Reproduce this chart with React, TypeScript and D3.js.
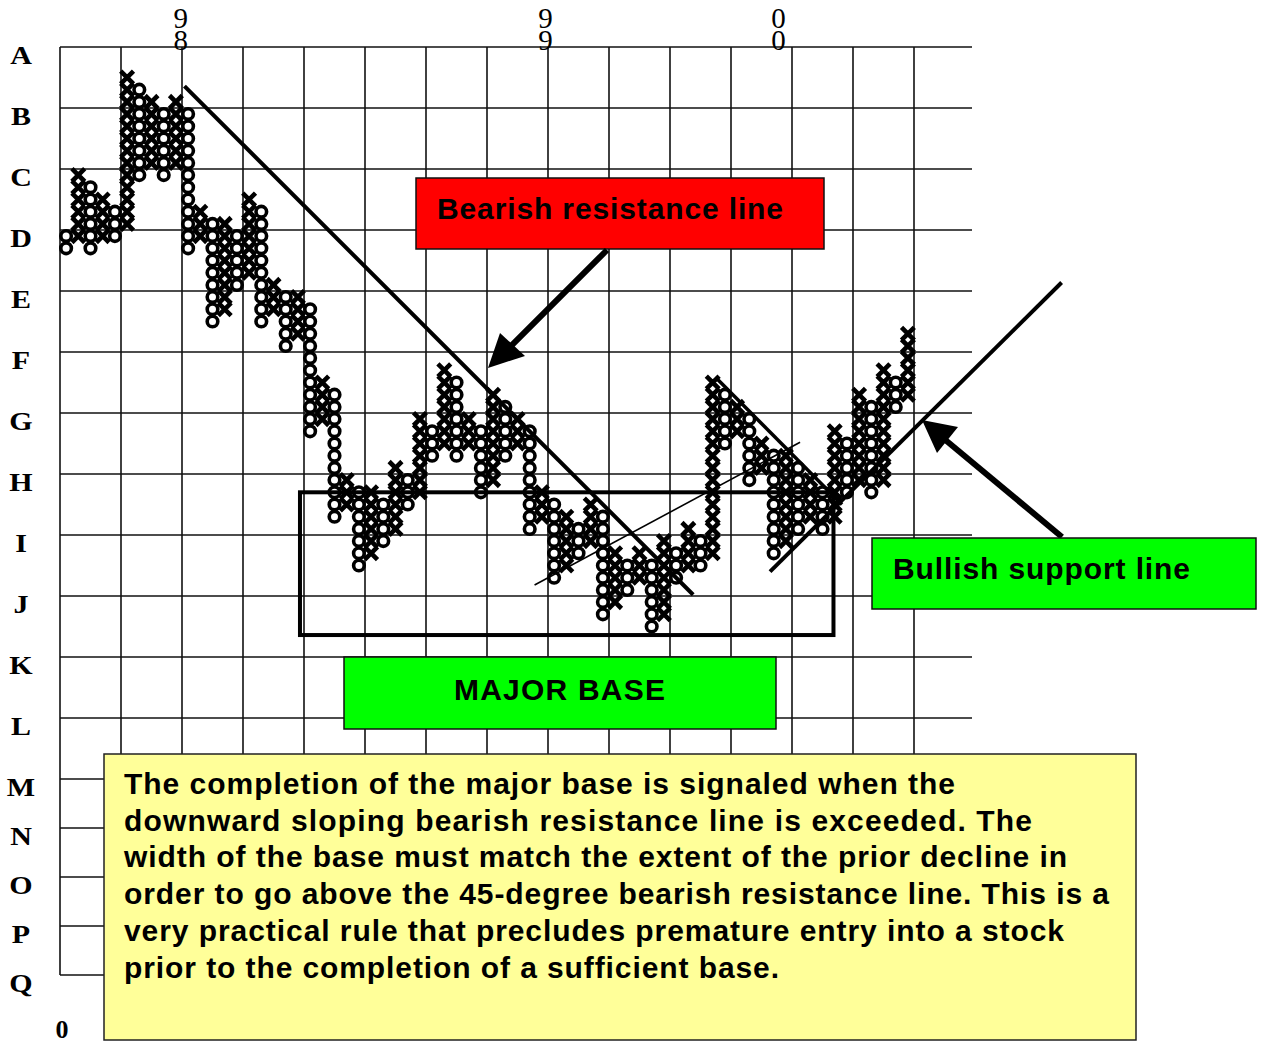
import React from "react";
import * as d3 from "d3";

// ---------- data ----------
const rowLabels = ["A", "B", "C", "D", "E", "F", "G", "H", "I", "J", "K", "L", "M", "N", "O", "P", "Q"];
const yearLabels = ["98", "99", "00"];
const yearColumns = [9.9, 39.8, 58.9];

const columnKinds = "OXOXOXOXOXOXOXOXOXOXOXOXOXOXOXOXOXOXOXOXOXOXOXOXOXOXOXOXOXOXOXOXOXOXOX".split("");
const columnHigh = [
  85, 90, 89, 88, 87, 98, 97, 96, 95, 96,
  95, 87, 86, 86, 85, 88, 87, 81, 80, 80,
  79, 73, 72, 65, 64, 64, 63, 66, 65, 70,
  69, 74, 73, 70, 69, 72, 71, 70, 69, 64,
  63, 62, 61, 63, 62, 59, 58, 59, 58, 60,
  59, 61, 60, 73, 72, 71, 70, 68, 67, 67,
  66, 65, 64, 69, 68, 72, 71, 74, 73, 77,
];
const columnLow = [
  84, 85, 84, 85, 85, 86, 90, 91, 90, 91,
  84, 85, 78, 79, 81, 82, 78, 79, 76, 77,
  69, 70, 62, 63, 58, 59, 60, 61, 63, 64,
  67, 68, 67, 68, 64, 65, 67, 68, 61, 62,
  57, 58, 59, 60, 54, 55, 56, 57, 53, 54,
  57, 58, 58, 59, 68, 69, 65, 66, 59, 60,
  61, 62, 61, 62, 64, 65, 64, 65, 71, 72,
];

// trend lines in [box column, price] units
const bearishLine = [[10.2, 96.8], [51.9, 55.1]];
const innerBearishLine = [[53.85, 72.8], [64.1, 62.5]];
const bullishLine = [[58.2, 57.0], [82.1, 80.7]];
const thinLine = [[38.9, 55.9], [60.66, 67.6]];
const baseRect = { x0: 19.67, x1: 63.4, top: 63.5, bottom: 51.8 };

const bodyLines = [
  "The completion of the major base is signaled when the",
  "downward sloping bearish resistance line is exceeded.  The",
  "width of the base must match the extent of the prior decline in",
  "order to go above the 45-degree bearish resistance line. This is a",
  "very practical rule that precludes premature entry into a stock",
  "prior to the completion of a sufficient base.",
];

// ---------- layout ----------
const W = 1262;
const H = 1043;
const bodyLineWidths = [831, 908, 943, 985, 940, 655];
const sans = "'Liberation Sans', Arial, Helvetica, sans-serif";
const serif = "'Liberation Serif', 'Times New Roman', serif";

export default function App() {
  const x = d3.scaleLinear().domain([0, 70]).range([60, 914]);
  const y = d3.scaleLinear().domain([100, 40]).range([47, 779]);
  const rowY = d3.scaleLinear().domain([0, 12, 16]).range([47, 779, 975]);
  const gridRight = 972;

  const xs: JSX.Element[] = [];
  const os: JSX.Element[] = [];
  columnKinds.forEach((k, i) => {
    const cx = x(i + 0.5);
    for (let p = columnLow[i]; p <= columnHigh[i]; p++) {
      const cy = y(p - 0.5);
      if (k === "X") {
        const h = 6.4;
        xs.push(
          <path
            key={`x${i}-${p}`}
            d={`M${cx - h},${cy - h}L${cx + h},${cy + h}M${cx + h},${cy - h}L${cx - h},${cy + h}`}
            stroke="#000"
            strokeWidth={4.6}
          />
        );
      } else {
        os.push(
          <circle key={`o${i}-${p}`} cx={cx} cy={cy} r={5.3} fill="#fff" stroke="#000" strokeWidth={3.6} />
        );
      }
    }
  });

  const seg = (l: number[][], w: number, key: string) => (
    <line
      key={key}
      x1={x(l[0][0])}
      y1={y(l[0][1])}
      x2={x(l[1][0])}
      y2={y(l[1][1])}
      stroke="#000"
      strokeWidth={w}
    />
  );

  return (
    <svg
      width={W}
      height={H}
      style={{ position: "absolute", left: 0, top: 0, background: "#fff" }}
      xmlns="http://www.w3.org/2000/svg"
    >
      <rect x={0} y={0} width={W} height={H} fill="#fff" />
      {/* grid */}
      {rowLabels.map((r, i) => (
        <line key={`h${r}`} x1={x(0)} x2={gridRight} y1={rowY(i)} y2={rowY(i)} stroke="#111" strokeWidth={1.6} />
      ))}
      {d3.range(0, 71, 5).map((b) => (
        <line key={`v${b}`} x1={x(b)} x2={x(b)} y1={rowY(0)} y2={rowY(16)} stroke="#111" strokeWidth={1.6} />
      ))}
      {/* row labels */}
      {rowLabels.map((r, i) => (
        <text
          key={`l${r}`}
          x={0}
          y={0}
          transform={`translate(21,${rowY(i) + 17}) scale(1.2,1)`}
          textAnchor="middle"
          fontFamily={serif}
          fontWeight="bold"
          fontSize={25}
          fill="#000"
        >
          {r}
        </text>
      ))}
      <text x={62} y={1038} textAnchor="middle" fontFamily={serif} fontWeight="bold" fontSize={26}>
        0
      </text>
      {/* year labels, stacked vertically */}
      {yearLabels.map((lab, j) => (
        <text
          key={`y${j}`}
          x={x(yearColumns[j])}
          y={2}
          fontFamily={serif}
          fontSize={29}
          fill="#000"
          letterSpacing={-10}
          style={{ writingMode: "vertical-rl", textOrientation: "upright" } as React.CSSProperties}
        >
          {lab}
        </text>
      ))}
      {/* point & figure */}
      {xs}
      {os}
      {/* trend lines */}
      {seg(bearishLine, 4, "bear")}
      {seg(innerBearishLine, 3.5, "ibear")}
      {seg(bullishLine, 4, "bull")}
      {seg(thinLine, 1.6, "thin")}
      <rect
        x={x(baseRect.x0)}
        y={y(baseRect.top)}
        width={x(baseRect.x1) - x(baseRect.x0)}
        height={y(baseRect.bottom) - y(baseRect.top)}
        fill="none"
        stroke="#000"
        strokeWidth={4}
      />
      {/* bearish label + arrow */}
      <rect x={416} y={178} width={408} height={71} fill="#ff0000" stroke="#111" strokeWidth={1.5} />
      <text x={437} y={219} fontFamily={sans} fontWeight="bold" fontSize={30} textLength={346} lengthAdjust="spacing">
        Bearish resistance line
      </text>
      <line x1={607} y1={250} x2={503} y2={354} stroke="#000" strokeWidth={6} />
      <polygon points="488,368 500,333 525,356" fill="#000" />
      {/* bullish label + arrow */}
      <line x1={1062} y1={537} x2={943} y2={438} stroke="#000" strokeWidth={6} />
      <polygon points="922,420 958,427 937,453" fill="#000" />
      <rect x={872} y={538} width={384} height={71} fill="#00ff00" stroke="#111" strokeWidth={1.5} />
      <text x={893} y={579} fontFamily={sans} fontWeight="bold" fontSize={30} textLength={297} lengthAdjust="spacing">
        Bullish support line
      </text>
      {/* major base label */}
      <rect x={344} y={657} width={432} height={72} fill="#00ff00" stroke="#111" strokeWidth={1.5} />
      <text x={454} y={700} fontFamily={sans} fontWeight="bold" fontSize={30} textLength={211} lengthAdjust="spacing">
        MAJOR BASE
      </text>
      {/* explanation box */}
      <rect x={104} y={754} width={1032} height={286} fill="#ffff99" stroke="#222" strokeWidth={1.5} />
      {bodyLines.map((t, i) => (
        <text
          key={`b${i}`}
          x={124}
          y={794 + i * 36.7}
          fontFamily={sans}
          fontWeight="bold"
          fontSize={30}
          textLength={bodyLineWidths[i]}
          lengthAdjust="spacing"
          fill="#000"
        >
          {t}
        </text>
      ))}
    </svg>
  );
}
